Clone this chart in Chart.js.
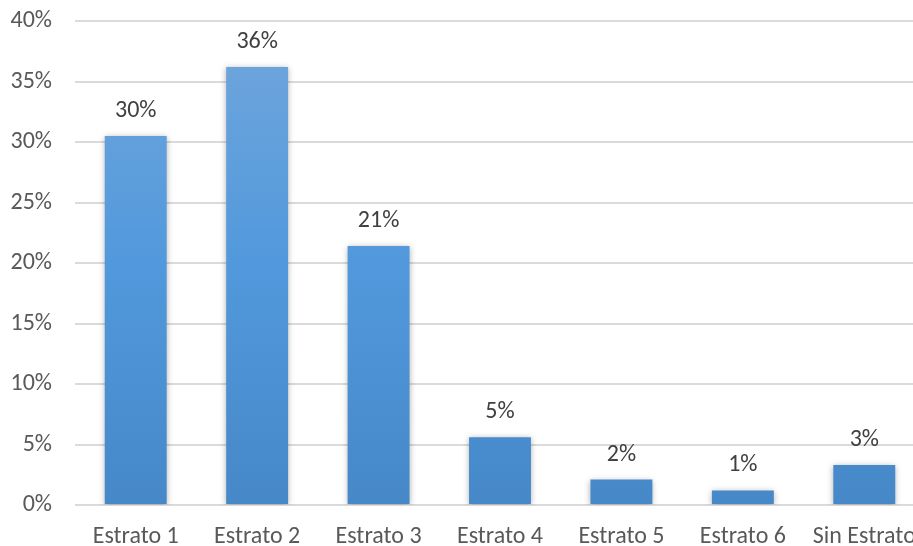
<!DOCTYPE html>
<html>
<head>
<meta charset="utf-8">
<script src="https://cdn.jsdelivr.net/npm/chart.js@4.4.0/dist/chart.umd.min.js"></script>
<style>
    html, body { margin: 0; padding: 0; background: #fff; overflow: hidden; }
    #wrap { width: 930px; height: 546px; }
</style>
</head>
<body>
<div id="wrap"><canvas id="chart" width="930" height="546"></canvas></div>
<script>
// data
const categories = ['Estrato 1', 'Estrato 2', 'Estrato 3', 'Estrato 4', 'Estrato 5', 'Estrato 6', 'Sin Estrato'];
const shares = [30.5, 36.2, 21.4, 5.6, 2.1, 1.2, 3.3];
const shareLabels = ['30%', '36%', '21%', '5%', '2%', '1%', '3%'];
const yTicks = [0, 5, 10, 15, 20, 25, 30, 35, 40];

const FONT = 'Carlito, Calibri, Lato, sans-serif';
const FS = 24;

// bar fill, lighter at the top like the office gradient
function barFill(context) {
    const chart = context.chart;
    const area = chart.chartArea;
    if (!area) return '#5b9bd5';
    const g = chart.ctx.createLinearGradient(0, area.top, 0, area.bottom);
    g.addColorStop(0, '#72a6dc');
    g.addColorStop(0.5, '#5199dc');
    g.addColorStop(1, '#4688c8');
    return g;
}

// soft shadow behind the bars
const barShadow = {
    id: 'barShadow',
    beforeDatasetsDraw(chart) {
        const ctx = chart.ctx;
        ctx.save();
        ctx.shadowColor = 'rgba(0,0,0,0.3)';
        ctx.shadowBlur = 6;
        ctx.shadowOffsetX = 0;
        ctx.shadowOffsetY = 1;
    },
    afterDatasetsDraw(chart) {
        chart.ctx.restore();
    }
};

// value labels above the bars
const valueLabels = {
    id: 'valueLabels',
    afterDatasetsDraw(chart) {
        const ctx = chart.ctx;
        const meta = chart.getDatasetMeta(0);
        ctx.save();
        ctx.font = FS + 'px ' + FONT;
        ctx.fillStyle = '#404040';
        ctx.textAlign = 'center';
        ctx.textBaseline = 'middle';
        meta.data.forEach((bar, i) => {
            ctx.fillText(shareLabels[i], bar.x, bar.y - 25);
        });
        ctx.restore();
    }
};

new Chart(document.getElementById('chart'), {
    type: 'bar',
    data: {
        labels: categories,
        datasets: [{
            data: shares,
            backgroundColor: barFill,
            borderWidth: 0,
            categoryPercentage: 1,
            barPercentage: 0.51
        }]
    },
    options: {
        responsive: false,
        animation: false,
        layout: { padding: { top: 21, right: 5, left: 0, bottom: 0 } },
        plugins: { legend: { display: false }, tooltip: { enabled: false } },
        scales: {
            x: {
                grid: { display: false, drawTicks: false },
                border: { display: false },
                ticks: { font: { size: FS, family: FONT }, color: '#595959', padding: 18, maxRotation: 0, autoSkip: false },
                afterFit(scale) {
                    scale.height = 41;
                    scale.paddingLeft = 0;
                    scale.paddingRight = 0;
                }
            },
            y: {
                min: 0,
                max: 40,
                afterBuildTicks(scale) { scale.ticks = yTicks.map(v => ({ value: v })); },
                grid: { color: '#dadada', lineWidth: 2, drawTicks: false },
                border: { display: false },
                ticks: {
                    font: { size: FS, family: FONT },
                    color: '#595959',
                    padding: 23,
                    callback: v => v + '%'
                },
                afterFit(scale) {
                    scale.width = 75;
                    scale.paddingTop = 0;
                    scale.paddingBottom = 0;
                }
            }
        }
    },
    plugins: [barShadow, valueLabels]
});
</script>
</body>
</html>
